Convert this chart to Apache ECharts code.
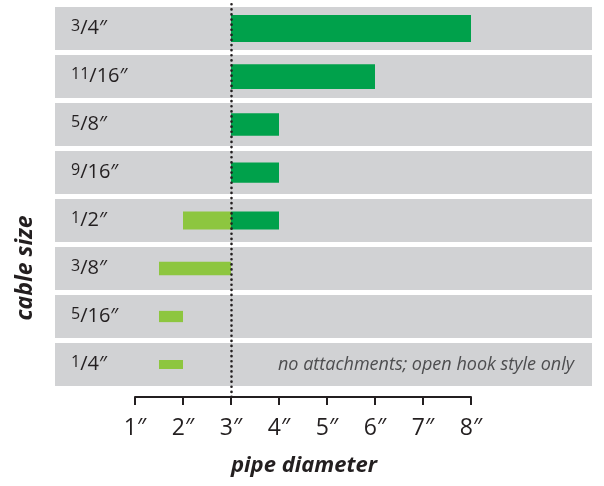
<!DOCTYPE html>
<html>
<head>
<meta charset="utf-8">
<script src="https://cdn.jsdelivr.net/npm/echarts@6/dist/echarts.min.js"></script>
<style>
  html, body { margin: 0; padding: 0; background: #fff; }
</style>
</head>
<body>
<div id="main" style="width: 604px; height: 486px"></div>
<script>
// cable sizes, top to bottom
var cables = ["3/4", "11/16", "5/8", "9/16", "1/2", "3/8", "5/16", "1/4"];
var cableInches = [0.75, 0.6875, 0.625, 0.5625, 0.5, 0.375, 0.3125, 0.25];
// pipe diameter ranges (inches) - dark green
var attachStart = [3, 3, 3, 3, 3, null, null, null];
var attachEnd = [8, 6, 4, 4, 4, null, null, null];
// pipe diameter ranges (inches) - light green
var hookStart = [null, null, null, null, 2, 1.5, 1.5, 1.5];
var hookEnd = [null, null, null, null, 3, 3, 2, 2];
var notes = [null, null, null, null, null, null, null, "no attachments; open hook style only"];
var pipeTicks = [1, 2, 3, 4, 5, 6, 7, 8];
var markerAt = 3;

var FONT = "Open Sans";
var INK = "#231f20";

var chart = echarts.init(document.getElementById("main"));

var attachData = [];
var hookData = [];
cables.forEach(function (c, i) {
  if (attachStart[i] != null) attachData.push([i, attachStart[i], attachEnd[i]]);
  if (hookStart[i] != null) hookData.push([i, hookStart[i], hookEnd[i]]);
});

function renderRange(params, api) {
  var cat = api.value(0);
  var p0 = api.coord([api.value(1), cat]);
  var p1 = api.coord([api.value(2), cat]);
  var h = cableInches[cat] * 36;
  return {
    type: "rect",
    shape: { x: p0[0], y: p0[1] - h / 2, width: p1[0] - p0[0], height: h },
    style: api.style()
  };
}

function renderBand(params, api) {
  var cat = api.value(0);
  var p = api.coord([0, cat]);
  var band = api.size([0, 1])[1] * 0.896;
  var cs = params.coordSys;
  var children = [{
    type: "rect",
    shape: { x: cs.x, y: p[1] - band / 2, width: cs.width, height: band },
    style: { fill: "#d1d2d4" }
  }];
  if (notes[cat]) {
    children.push({
      type: "text",
      x: cs.x + cs.width - 18,
      y: p[1],
      style: {
        text: notes[cat],
        align: "right",
        verticalAlign: "middle",
        fill: "#4d4d4f",
        font: "italic 18px '" + FONT + "'"
      }
    });
  }
  return { type: "group", children: children };
}

var option = {
  animation: false,
  grid: [
    { left: 55, top: 4.5, width: 537, height: 384 },
    { left: 135, top: 0, width: 336, height: 397 }
  ],
  xAxis: [
    { gridIndex: 0, type: "value", min: -2 / 3, max: 10.5208, show: false },
    {
      gridIndex: 1, type: "value", min: 1, max: 8, interval: 1,
      splitLine: { show: false },
      axisLine: { show: true, lineStyle: { color: INK, width: 2 } },
      axisTick: { show: true, length: 8, lineStyle: { color: INK, width: 2 } },
      axisLabel: {
        margin: 20, color: INK, fontSize: 23, fontFamily: FONT,
        formatter: function (v) { return pipeTicks.indexOf(v) >= 0 ? v + "″" : ""; }
      }
    }
  ],
  yAxis: [
    {
      gridIndex: 0, type: "category", data: cables, inverse: true,
      axisLine: { show: false }, axisTick: { show: false }, splitLine: { show: false },
      z: 5,
      axisLabel: {
        inside: true, margin: 16, color: INK,
        formatter: function (v) {
          var p = v.split("/");
          return "{sup|" + p[0] + "}{main|/" + p[1] + "″}";
        },
        rich: {
          sup: { fontSize: 16, fontFamily: FONT, color: INK, verticalAlign: "top", lineHeight: 16 },
          main: { fontSize: 20, fontFamily: FONT, color: INK, verticalAlign: "bottom", lineHeight: 20 }
        },
        lineHeight: 26
      }
    },
    { gridIndex: 1, type: "value", min: 0, max: 1, show: false }
  ],
  graphic: [
    {
      type: "text", x: 25, y: 268, rotation: Math.PI / 2,
      style: {
        text: "cable size", align: "center", verticalAlign: "middle",
        fill: INK, font: "italic bold 23px '" + FONT + "'"
      }
    },
    {
      type: "text", x: 304, y: 466,
      style: {
        text: "pipe diameter", align: "center", verticalAlign: "middle",
        fill: INK, font: "italic bold 22px '" + FONT + "'"
      }
    }
  ],
  series: [
    {
      name: "bands", type: "custom", xAxisIndex: 0, yAxisIndex: 0,
      renderItem: renderBand, data: cables.map(function (c, i) { return [i]; }),
      encode: { y: 0 }, silent: true, z: 1
    },
    {
      name: "attachments", type: "custom", xAxisIndex: 0, yAxisIndex: 0,
      renderItem: renderRange, data: attachData,
      encode: { x: [1, 2], y: 0 }, itemStyle: { color: "#00a14b" }, z: 2
    },
    {
      name: "open hook", type: "custom", xAxisIndex: 0, yAxisIndex: 0,
      renderItem: renderRange, data: hookData,
      encode: { x: [1, 2], y: 0 }, itemStyle: { color: "#8dc63f" }, z: 2
    },
    {
      name: "marker", type: "line", xAxisIndex: 1, yAxisIndex: 1, data: [], z: 10,
      markLine: {
        silent: true, symbol: "none", label: { show: false },
        lineStyle: { color: INK, type: [0.1, 5], width: 2.6, cap: "round" },
        data: [{ xAxis: markerAt }]
      }
    }
  ]
};

option && chart.setOption(option);
</script>
</body>
</html>
